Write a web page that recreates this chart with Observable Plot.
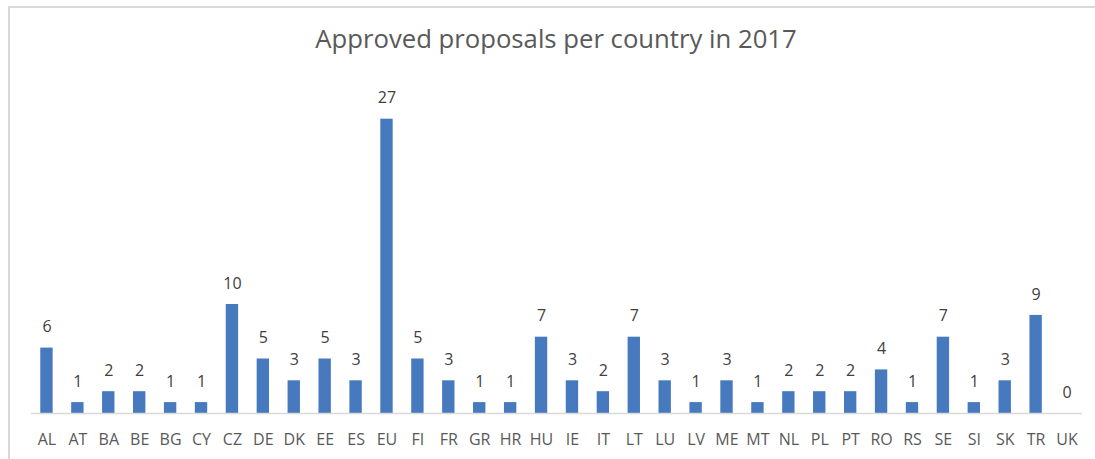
<!DOCTYPE html>
<html>
<head>
<meta charset="utf-8">
<script src="https://cdn.jsdelivr.net/npm/d3@7"></script>
<script src="https://cdn.jsdelivr.net/npm/@observablehq/plot@0.6"></script>
<style>
  html, body { margin: 0; padding: 0; background: #fff; }
  #wrap { position: relative; width: 1095px; height: 459px; overflow: hidden; }
  #frame { position: absolute; left: 8px; top: 6px; width: 1200px; height: 600px; border-left: 2px solid #d9d9d9; border-top: 2px solid #d9d9d9; box-sizing: border-box; }
  #title { position: absolute; left: 0; width: 1112px; top: 21px; text-align: center; font-family: "Open Sans", sans-serif; font-size: 25.7px; color: #595959; }
  #chart { position: absolute; left: 0; top: 60px; }
</style>
</head>
<body>
<div id="wrap">
  <div id="frame"></div>
  <div id="title">Approved proposals per country in 2017</div>
  <div id="chart"></div>
</div>
<script>
const countries = ["AL","AT","BA","BE","BG","CY","CZ","DE","DK","EE","ES","EU","FI","FR","GR","HR","HU","IE","IT","LT","LU","LV","ME","MT","NL","PL","PT","RO","RS","SE","SI","SK","TR","UK"];
const proposals = [6,1,2,2,1,1,10,5,3,5,3,27,5,3,1,1,7,3,2,7,3,1,3,1,2,2,2,4,1,7,1,3,9,0];

const data = countries.map((c, i) => ({country: c, value: proposals[i]}));

const chart = Plot.plot({
  width: 1095,
  height: 399,
  marginLeft: 31,
  marginRight: 13,
  marginTop: 26,
  marginBottom: 46,
  style: {fontFamily: "'Open Sans', sans-serif", background: "transparent"},
  x: {domain: countries, paddingInner: 0.6, paddingOuter: 0.3, label: null},
  y: {domain: [0, 30], axis: null},
  marks: [
    Plot.barY(data, {x: "country", y: "value", fill: "#4679be"}),
    Plot.ruleY([0], {stroke: "#d9d9d9", strokeWidth: 1.5}),
    Plot.text(data, {x: "country", y: "value", text: d => String(d.value), dy: -21, fill: "#404040", fontSize: 16}),
    Plot.axisX({tickSize: 0, tickPadding: 20, fontSize: 16, color: "#595959", label: null})
  ]
});
document.getElementById("chart").appendChild(chart);
</script>
</body>
</html>
